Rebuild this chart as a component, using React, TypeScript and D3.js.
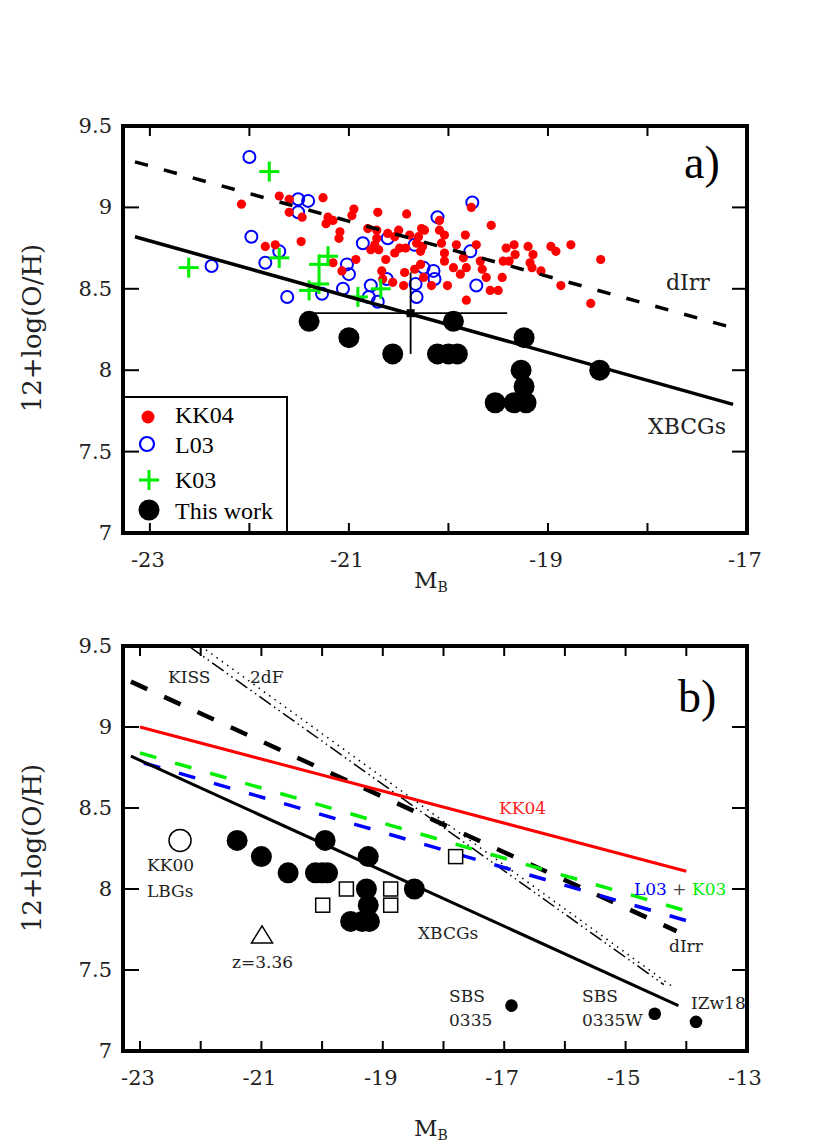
import React from 'react';
import * as d3 from 'd3';

// ---------- Panel a) data ----------
// KK04 (red dots): M_B, 12+log(O/H)
const kk04M = [-22.08, -21.70, -21.60, -21.60, -21.47, -21.48, -21.84, -21.74, -21.26, -21.21, -21.16, -21.23, -20.95, -20.97, -20.71, -20.42, -21.09, -21.10, -20.81, -20.72, -20.61, -20.50, -20.54, -20.72, -20.74, -20.78, -20.70, -20.49, -20.54, -20.43, -20.63, -20.93, -21.16, -21.07, -20.67, -20.66, -20.56, -20.45, -20.44, -19.77, -20.09, -19.57, -20.27, -20.24, -20.09, -20.04, -19.83, -20.39, -20.30, -20.32, -20.26, -20.07, -19.92, -19.72, -19.42, -20.28, -20.04, -19.85, -20.04, -19.68, -19.45, -20.28, -19.95, -19.82, -19.66, -20.34, -19.88, -19.62, -19.46, -20.25, -20.17, -20.01, -19.58, -19.50, -19.82, -19.34, -19.20, -18.97, -18.92, -18.77, -19.33, -19.15, -19.39, -19.18, -19.16, -19.07, -18.47, -18.87, -18.57];
const kk04OH = [9.02, 9.07, 9.05, 8.97, 8.94, 8.79, 8.76, 8.77, 9.06, 8.94, 8.92, 8.90, 8.99, 8.95, 8.97, 8.96, 8.85, 8.81, 8.87, 8.86, 8.84, 8.86, 8.82, 8.81, 8.77, 8.74, 8.74, 8.75, 8.72, 8.75, 8.68, 8.68, 8.66, 8.61, 8.61, 8.56, 8.54, 8.52, 8.60, 9.00, 8.92, 8.89, 8.87, 8.86, 8.86, 8.83, 8.83, 8.83, 8.82, 8.78, 8.76, 8.78, 8.77, 8.77, 8.75, 8.73, 8.72, 8.69, 8.67, 8.67, 8.67, 8.65, 8.63, 8.63, 8.62, 8.62, 8.59, 8.57, 8.57, 8.57, 8.52, 8.52, 8.49, 8.49, 8.43, 8.77, 8.76, 8.76, 8.73, 8.77, 8.71, 8.71, 8.67, 8.66, 8.63, 8.61, 8.68, 8.52, 8.41];

// L03 (blue open circles)
const l03M = [-22.00, -21.51, -21.41, -21.51, -21.98, -21.70, -21.84, -22.38, -21.62, -20.86, -20.61, -21.02, -21.00, -21.06, -21.27, -20.78, -20.80, -20.71, -20.62, -19.76, -20.11, -20.34, -19.78, -20.25, -20.15, -20.14, -20.33, -19.72, -20.32];
const l03OH = [9.31, 9.05, 9.04, 8.97, 8.82, 8.73, 8.66, 8.64, 8.45, 8.78, 8.81, 8.65, 8.59, 8.50, 8.47, 8.52, 8.45, 8.42, 8.56, 9.03, 8.94, 8.77, 8.73, 8.63, 8.61, 8.56, 8.53, 8.52, 8.45];

// K03 (green crosses)
const k03M = [-22.61, -21.80, -21.70, -21.30, -21.21, -21.40, -21.30, -20.91, -20.68];
const k03OH = [8.63, 9.22, 8.69, 8.65, 8.70, 8.49, 8.53, 8.45, 8.50];

// This work (black filled circles) - used in both panels
const thisM = [-21.40, -21.00, -20.56, -20.11, -20.00, -19.91, -19.95, -19.24, -19.27, -19.24, -18.48, -19.53, -19.34, -19.22];
const thisOH = [8.30, 8.20, 8.10, 8.10, 8.10, 8.10, 8.30, 8.20, 8.00, 7.90, 8.00, 7.80, 7.80, 7.80];

// mean point with error bars (panel a)
const meanPoint = { m: -20.38, oh: 8.35, dm: 0.97, doh: 0.25 };

// fitted relations, panel a (endpoints)
const aDirrM = [-23.15, -17.14];
const aDirrOH = [9.28, 8.26];
const aXbcgM = [-23.15, -17.14];
const aXbcgOH = [8.82, 7.79];

// ---------- Panel b) data ----------
const bDirrM = [-23.15, -14.16];
const bDirrOH = [9.28, 7.74];
const bXbcgM = [-23.15, -14.13];
const bXbcgOH = [8.82, 7.28];
const bKK04M = [-23.0, -14.0];
const bKK04OH = [9.0, 8.11];
const bK03M = [-23.0, -14.0];
const bK03OH = [8.84, 7.865];
const bL03M = [-23.0, -14.0];
const bL03OH = [8.785, 7.805];
const bKissM = [-22.2, -14.37];
const bKissOH = [9.5, 7.41];
const b2dfM = [-22.0, -14.2];
const b2dfOH = [9.5, 7.39];

// open squares
const sqM = [-19.6, -19.99, -18.87, -18.87, -17.8];
const sqOH = [8.0, 7.9, 8.0, 7.9, 8.2];
// small filled circles: SBS 0335, SBS 0335W, IZw18
const smallM = [-16.88, -14.52, -13.84];
const smallOH = [7.28, 7.23, 7.18];
// KK00 LBGs (open circle), z=3.36 (triangle)
const kk00 = { m: -22.34, oh: 8.30 };
const z336 = { m: -20.99, oh: 7.71 };

// ticks
const xTicksA = d3.range(-23, -16.5, 1);
const xLabelsA = [-23, -21, -19, -17];
const xTicksB = d3.range(-23, -12.5, 1);
const xLabelsB = [-23, -21, -19, -17, -15, -13];
const yTicks = [7, 7.5, 8, 8.5, 9, 9.5];
const yLabelText = ['7', '7.5', '8', '8.5', '9', '9.5'];

const CM = "'DejaVu Serif', serif";
const TIMES = "'Liberation Serif', 'Times New Roman', serif";
const TXT = '#222';
const GREEN = '#00ee00';

type Sc = d3.ScaleLinear<number, number>;

function Frame({ x, y, xTicks, xLabels }: { x: Sc; y: Sc; xTicks: number[]; xLabels: number[] }) {
  const [x0, x1] = x.range();
  const [y0, y1] = y.range(); // y0 bottom, y1 top
  return (
    <g>
      {xTicks.map((t) => (
        <g key={'xt' + t}>
          <line x1={x(t)} x2={x(t)} y1={y0} y2={y0 - 10} stroke="#000" strokeWidth={2} />
          <line x1={x(t)} x2={x(t)} y1={y1} y2={y1 + 10} stroke="#000" strokeWidth={2} />
        </g>
      ))}
      {yTicks.map((t) => (
        <g key={'yt' + t}>
          <line x1={x0} x2={x0 + 16} y1={y(t)} y2={y(t)} stroke="#000" strokeWidth={2} />
          <line x1={x1} x2={x1 - 15} y1={y(t)} y2={y(t)} stroke="#000" strokeWidth={2} />
        </g>
      ))}
      {xLabels.map((t) => (
        <text key={'xl' + t} x={x(t) - 2} y={y0 + 34} textAnchor="middle" fontFamily={CM} fontSize={21} fill={TXT}>
          {t < 0 ? '-' + Math.abs(t) : String(t)}
        </text>
      ))}
      {yTicks.map((t, i) => (
        <text key={'yl' + t} x={112} y={y(t) + 7} textAnchor="end" fontFamily={CM} fontSize={21} fill={TXT}>
          {yLabelText[i]}
        </text>
      ))}
      <rect x={x0} y={y1} width={x1 - x0} height={y0 - y1} fill="none" stroke="#000" strokeWidth={4} />
    </g>
  );
}

function seg(x: Sc, y: Sc, ms: number[], ohs: number[]) {
  const pts: [number, number][] = ms.map((m, i) => [x(m), y(ohs[i])]);
  return d3.line()(pts) || '';
}

export default function App() {
  const xA = d3.scaleLinear().domain([-23.27, -17]).range([123, 747]);
  const yA = d3.scaleLinear().domain([7, 9.5]).range([533, 126]);
  const xB = d3.scaleLinear().domain([-23.28, -13]).range([123, 747]);
  const yB = d3.scaleLinear().domain([7, 9.5]).range([1051, 646]);

  const plus = (cx: number, cy: number, h: number, key: string) => (
    <g key={key} stroke={GREEN} strokeWidth={3}>
      <line x1={cx - h} x2={cx + h} y1={cy} y2={cy} />
      <line x1={cx} x2={cx} y1={cy - h} y2={cy + h} />
    </g>
  );

  return (
    <svg width={830} height={1146} style={{ position: 'absolute', left: 0, top: 0, background: '#fff' }}>
      <rect x={0} y={0} width={830} height={1146} fill="#fff" />
      {/* ================= Panel a ================= */}
      <g>
        {l03M.map((m, i) => (
          <circle key={'l' + i} cx={xA(m)} cy={yA(l03OH[i])} r={6} fill="none" stroke="#0000ff" strokeWidth={2} />
        ))}
        {kk04M.map((m, i) => (
          <circle key={'k' + i} cx={xA(m)} cy={yA(kk04OH[i])} r={4.6} fill="#ff0000" />
        ))}
        {k03M.map((m, i) => plus(xA(m), yA(k03OH[i]), 10, 'g' + i))}
        {thisM.map((m, i) => (
          <circle key={'t' + i} cx={xA(m)} cy={yA(thisOH[i])} r={10.5} fill="#000" />
        ))}
        <path d={seg(xA, yA, aDirrM, aDirrOH)} stroke="#000" strokeWidth={3.5} fill="none" strokeDasharray="13.5,16.5" />
        <path d={seg(xA, yA, aXbcgM, aXbcgOH)} stroke="#000" strokeWidth={3.5} fill="none" />
        {/* mean with error bars */}
        <line x1={xA(meanPoint.m - meanPoint.dm)} x2={xA(meanPoint.m + meanPoint.dm)} y1={yA(meanPoint.oh)} y2={yA(meanPoint.oh)} stroke="#000" strokeWidth={1.8} />
        <line x1={xA(meanPoint.m)} x2={xA(meanPoint.m)} y1={yA(meanPoint.oh + meanPoint.doh)} y2={yA(meanPoint.oh - meanPoint.doh)} stroke="#000" strokeWidth={1.8} />
        <rect x={xA(meanPoint.m) - 4} y={yA(meanPoint.oh) - 4} width={8} height={8} fill="#000" />

        <text x={666} y={290} fontFamily={CM} fontSize={22} fill={TXT}>dIrr</text>
        <text x={648} y={434} fontFamily={CM} fontSize={22} fill={TXT}>XBCGs</text>
        <text x={684} y={178} fontFamily={TIMES} fontSize={46} fill="#000">a)</text>

        {/* legend */}
        <rect x={123} y={397} width={164} height={136} fill="#fff" stroke="#000" strokeWidth={2} />
        <circle cx={148} cy={417} r={6.5} fill="#ff0000" />
        <text x={175} y={423} fontFamily={TIMES} fontSize={24} fill="#000">KK04</text>
        <circle cx={147} cy={444} r={7} fill="none" stroke="#0000ff" strokeWidth={2.2} />
        <text x={175} y={453} fontFamily={TIMES} fontSize={24} fill="#000">L03</text>
        {plus(149, 480, 10, 'legplus')}
        <text x={175} y={488} fontFamily={TIMES} fontSize={24} fill="#000">K03</text>
        <circle cx={149} cy={510} r={10.5} fill="#000" />
        <text x={175} y={519} fontFamily={TIMES} fontSize={24} fill="#000">This work</text>

        <Frame x={xA} y={yA} xTicks={xTicksA} xLabels={xLabelsA} />

        <text transform="translate(41,328) rotate(-90)" textAnchor="middle" fontFamily={CM} fontSize={26} fill={TXT}>12+log(O/H)</text>
        <text x={414} y={588} fontFamily={CM} fontSize={23} fill={TXT}>M<tspan fontSize={14} dy={4}>B</tspan></text>
      </g>

      {/* ================= Panel b ================= */}
      <g>
        <path d={seg(xB, yB, bKissM, bKissOH)} stroke="#000" strokeWidth={1.5} fill="none" strokeDasharray="14,4,1.5,4,1.5,4" />
        <path d={seg(xB, yB, b2dfM, b2dfOH)} stroke="#000" strokeWidth={1.5} fill="none" strokeDasharray="1.5,5" />
        <path d={seg(xB, yB, bDirrM, bDirrOH)} stroke="#000" strokeWidth={4.5} fill="none" strokeDasharray="18,18.6" />
        <path d={seg(xB, yB, bKK04M, bKK04OH)} stroke="#ff0000" strokeWidth={3} fill="none" />
        <path d={seg(xB, yB, bK03M, bK03OH)} stroke={GREEN} strokeWidth={3.5} fill="none" strokeDasharray="17,19.5" />
        <path d={seg(xB, yB, bL03M, bL03OH)} stroke="#0000ff" strokeWidth={3.5} fill="none" strokeDasharray="17,19.5" strokeDashoffset={-4} />
        <path d={seg(xB, yB, bXbcgM, bXbcgOH)} stroke="#000" strokeWidth={3} fill="none" />

        {thisM.map((m, i) => (
          <circle key={'bt' + i} cx={xB(m)} cy={yB(thisOH[i])} r={10.5} fill="#000" />
        ))}
        {sqM.map((m, i) => (
          <rect key={'sq' + i} x={xB(m) - 7} y={yB(sqOH[i]) - 7} width={14} height={14} fill="#fff" stroke="#000" strokeWidth={1.5} />
        ))}
        {smallM.map((m, i) => (
          <circle key={'sm' + i} cx={xB(m)} cy={yB(smallOH[i])} r={6.3} fill="#000" />
        ))}
        <circle cx={xB(kk00.m)} cy={yB(kk00.oh)} r={11} fill="none" stroke="#000" strokeWidth={1.5} />
        <path
          d={`M${xB(z336.m)},${yB(z336.oh) - 10} L${xB(z336.m) + 10.5},${yB(z336.oh) + 7} L${xB(z336.m) - 10.5},${yB(z336.oh) + 7} Z`}
          fill="none" stroke="#000" strokeWidth={1.5}
        />

        <text x={168} y={683} fontFamily={CM} fontSize={17} fill={TXT}>KISS</text>
        <text x={250} y={683} fontFamily={CM} fontSize={17} fill={TXT}>2dF</text>
        <text x={147} y={871} fontFamily={CM} fontSize={17} fill={TXT}>KK00</text>
        <text x={147} y={897} fontFamily={CM} fontSize={17} fill={TXT}>LBGs</text>
        <text x={232} y={968} fontFamily={CM} fontSize={17} fill={TXT}>z=3.36</text>
        <text x={418} y={939} fontFamily={CM} fontSize={17} fill={TXT}>XBCGs</text>
        <text x={449} y={1002} fontFamily={CM} fontSize={17} fill={TXT}>SBS</text>
        <text x={449} y={1026} fontFamily={CM} fontSize={17} fill={TXT}>0335</text>
        <text x={582} y={1002} fontFamily={CM} fontSize={17} fill={TXT}>SBS</text>
        <text x={582} y={1026} fontFamily={CM} fontSize={17} fill={TXT}>0335W</text>
        <text x={691} y={1009} fontFamily={CM} fontSize={17} fill={TXT}>IZw18</text>
        <text x={669} y={952} fontFamily={CM} fontSize={17} fill={TXT}>dIrr</text>
        <text x={499} y={814} fontFamily={CM} fontSize={17} fill="#ff2020">KK04</text>
        <text x={634} y={895} fontFamily={CM} fontSize={17}>
          <tspan fill="#0000ff">L03</tspan>
          <tspan fill="#444"> + </tspan>
          <tspan fill={GREEN}>K03</tspan>
        </text>
        <text x={678} y={712} fontFamily={TIMES} fontSize={46} fill="#000">b)</text>

        <Frame x={xB} y={yB} xTicks={xTicksB} xLabels={xLabelsB} />

        <text transform="translate(41,848) rotate(-90)" textAnchor="middle" fontFamily={CM} fontSize={26} fill={TXT}>12+log(O/H)</text>
        <text x={414} y={1136} fontFamily={CM} fontSize={23} fill={TXT}>M<tspan fontSize={14} dy={4}>B</tspan></text>
      </g>
    </svg>
  );
}
